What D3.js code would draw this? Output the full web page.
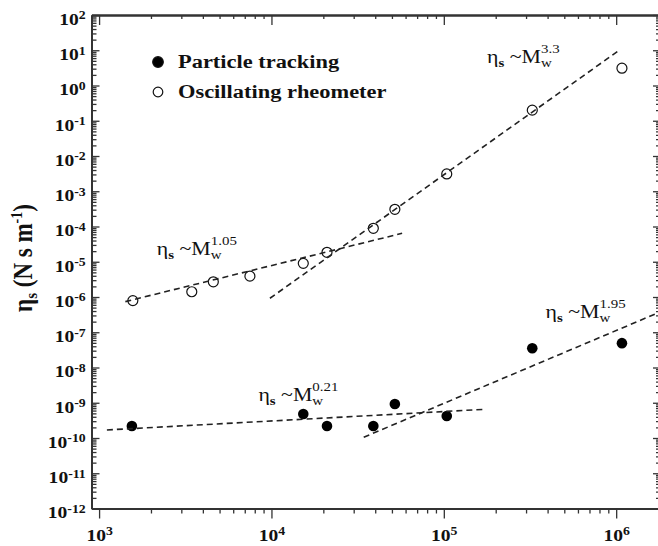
<html>
<head>
<meta charset="utf-8">
<script src="https://d3js.org/d3.v7.min.js"></script>
<style>
body {
	margin: 0;
	background: #fff;
}
svg text {
	font-family: "Liberation Serif", "Times New Roman", serif;
	fill: #111;
}
.axis path, .axis line {
	stroke: #333;
}
.axis path {
	stroke-width: 2;
}
.axis line {
	stroke-width: 1.3;
}
.fit {
	fill: none;
	stroke: #222;
	stroke-width: 1.6;
	stroke-dasharray: 6,4;
}
</style>
</head>
<body>
<div id="chart"></div>
<script>

// Oscillating rheometer (open circles)
var mwRheo  = [1.57e3, 3.45e3, 4.6e3, 7.5e3, 1.53e4, 2.1e4, 3.9e4, 5.2e4, 1.04e5, 3.26e5, 1.08e6];
var etaRheo = [7.9e-7, 1.41e-6, 2.7e-6, 3.9e-6, 9.0e-6, 1.85e-5, 8.9e-5, 3.08e-4, 3.1e-3, 0.20, 3.1];

// Particle tracking (filled circles)
var mwTrack  = [1.55e3, 1.53e4, 2.1e4, 3.9e4, 5.2e4, 1.04e5, 3.26e5, 1.08e6];
var etaTrack = [2.2e-10, 4.8e-10, 2.2e-10, 2.2e-10, 9.2e-10, 4.2e-10, 3.5e-8, 4.9e-8];

// power law fits: exponent, segment ends, label anchor
var fitExp   = ["0.21", "1.95", "1.05", "3.3"];
var fitMw    = [[1.11e3, 1.71e5], [3.43e4, 1.76e6], [1.42e3, 5.73e4], [9.8e3, 1.06e6]];
var fitEta   = [[1.69e-10, 6.5e-10], [1.05e-10, 3.6e-7], [7.4e-7, 6.4e-5], [9.2e-7, 10.6]];
var labelMw  = [8.4e3, 3.89e5, 2.16e3, 1.78e5];
var labelEta = [1.12e-9, 2.54e-7, 1.55e-5, 4.3];

var legendNames = ["Particle tracking", "Oscillating rheometer"];

var xDecades = [1e3, 1e4, 1e5, 1e6];
var yDecades = d3.range(-12, 3).map(function(e) { return Math.pow(10, e); });

var stretch = 1.15;

let margin = {top: 15, left: 91.5},
	width = 569.5,
	height = 493.5;

let svg = d3.select("#chart").append("svg")
	.attr("width", 658)
	.attr("height", 546);

let g = svg.append("g")
	.attr("transform", "translate(" + margin.left + "," + margin.top + ")");

let x = d3.scaleLog().domain([Math.pow(10, 2.956), Math.pow(10, 6.26)]).range([0, width]),
	y = d3.scaleLog().domain([1e-12, 1e2]).range([height, 0]);

// minor ticks 2..9 in each decade
function minors(scale) {
	var d = scale.domain(), out = [];
	for (var e = Math.floor(Math.log10(d[0])); e <= Math.ceil(Math.log10(d[1])); e++) {
		for (var k = 2; k <= 9; k++) {
			var v = k * Math.pow(10, e);
			if (v >= d[0] && v <= d[1]) out.push(v);
		}
	}
	return out;
}

function pow10(sel, supSize) {
	sel.each(function(d) {
		var t = d3.select(this);
		t.text("");
		t.append("tspan").text("10");
		t.append("tspan")
			.attr("dy", "-0.45em")
			.attr("font-size", supSize)
			.text(Math.round(Math.log10(d)));
	});
}

// x axes (bottom outward, top inward)
g.append("g").attr("class", "axis")
	.attr("transform", "translate(0," + height + ")")
	.call(d3.axisBottom(x).tickValues(minors(x)).tickSize(5).tickSizeOuter(0).tickFormat(""));
let xb = g.append("g").attr("class", "axis")
	.attr("transform", "translate(0," + height + ")")
	.call(d3.axisBottom(x).tickValues(xDecades).tickSize(10).tickSizeOuter(0).tickPadding(10));
xb.selectAll("text")
	.attr("font-size", 17)
	.attr("font-weight", "bold")
	.attr("transform", "scale(" + stretch + ",1)")
	.call(pow10, 12);

g.append("g").attr("class", "axis")
	.call(d3.axisBottom(x).tickValues(minors(x)).tickSize(4).tickSizeOuter(0).tickFormat(""));
g.append("g").attr("class", "axis")
	.call(d3.axisBottom(x).tickValues(xDecades).tickSize(10).tickSizeOuter(0).tickFormat(""));

// y axes (ticks inward)
g.append("g").attr("class", "axis")
	.call(d3.axisLeft(y).tickValues(minors(y)).tickSize(-5).tickSizeOuter(0).tickFormat(""));
let yl = g.append("g").attr("class", "axis")
	.call(d3.axisLeft(y).tickValues(yDecades).tickSize(-8).tickSizeOuter(0).tickPadding(5));
yl.selectAll("text")
	.attr("font-size", 17)
	.attr("font-weight", "bold")
	.attr("dy", "0.55em")
	.attr("transform", "scale(" + stretch + ",1)")
	.call(pow10, 12);

g.append("g").attr("class", "axis")
	.attr("transform", "translate(" + width + ",0)")
	.call(d3.axisLeft(y).tickValues(minors(y)).tickSize(5).tickSizeOuter(0).tickFormat(""));
g.append("g").attr("class", "axis")
	.attr("transform", "translate(" + width + ",0)")
	.call(d3.axisLeft(y).tickValues(yDecades).tickSize(8).tickSizeOuter(0).tickFormat(""));

// y label
let yLab = svg.append("text")
	.attr("transform", "translate(32,258) scale(" + stretch + ",1) rotate(-90)")
	.attr("text-anchor", "middle")
	.attr("font-size", 23)
	.attr("font-weight", "bold");
yLab.append("tspan").text("\u03b7");
yLab.append("tspan").attr("font-size", 15).attr("dy", 4).text("s");
yLab.append("tspan").attr("dy", -4).text(" (N s m");
yLab.append("tspan").attr("font-size", 14).attr("dy", -9).text("-1");
yLab.append("tspan").attr("dy", 9).text(")");

g.append("clipPath").attr("id", "plotClip")
	.append("rect").attr("width", width).attr("height", height);

// points
g.selectAll(".track")
	.data(mwTrack)
	.enter().append("circle")
	.attr("class", "track")
	.attr("cx", function(d) { return x(d); })
	.attr("cy", function(d, i) { return y(etaTrack[i]); })
	.attr("r", 5.3)
	.attr("fill", "#000");

g.selectAll(".rheo")
	.data(mwRheo)
	.enter().append("circle")
	.attr("class", "rheo")
	.attr("cx", function(d) { return x(d); })
	.attr("cy", function(d, i) { return y(etaRheo[i]); })
	.attr("r", 5)
	.attr("fill", "none")
	.attr("stroke", "#111")
	.attr("stroke-width", 1.2);

// fit lines
let line = d3.line()
	.x(function(d) { return x(d[0]); })
	.y(function(d) { return y(d[1]); });

g.selectAll(".fit")
	.data(fitMw)
	.enter().append("path")
	.attr("class", "fit")
	.attr("clip-path", "url(#plotClip)")
	.attr("d", function(d, i) { return line([[d[0], fitEta[i][0]], [d[1], fitEta[i][1]]]); });

// fit labels: eta_s ~ M_w^b
fitExp.forEach(function(b, i) {
	var lab = g.append("g")
		.attr("transform", "translate(" + x(labelMw[i]) + "," + y(labelEta[i]) + ") scale(" + stretch + ",1)");
	var t = lab.append("text").attr("font-size", 19);
	t.append("tspan").text("\u03b7");
	t.append("tspan").attr("font-size", 13).attr("font-weight", "bold").attr("dy", 4).text("s");
	t.append("tspan").attr("dy", -4).text(" ~M");
	var w = t.node().getComputedTextLength();
	lab.append("text").attr("x", w).attr("y", 4).attr("font-size", 13).text("w");
	lab.append("text").attr("x", w).attr("y", -10).attr("font-size", 13).text(b);
});

// legend
let legend = svg.selectAll(".legend")
	.data(legendNames)
	.enter().append("g")
	.attr("class", "legend")
	.attr("transform", function(d, i) { return "translate(158," + (62 + i * 30) + ")"; });

legend.append("circle")
	.attr("r", function(d, i) { return i == 0 ? 5.3 : 4.8; })
	.attr("fill", function(d, i) { return i == 0 ? "#000" : "none"; })
	.attr("stroke", "#111")
	.attr("stroke-width", 1.2);

legend.append("text")
	.attr("transform", "translate(20,6) scale(" + stretch + ",1)")
	.attr("font-size", 19.5)
	.attr("font-weight", "bold")
	.text(function(d) { return d; });

</script>
</body>
</html>
